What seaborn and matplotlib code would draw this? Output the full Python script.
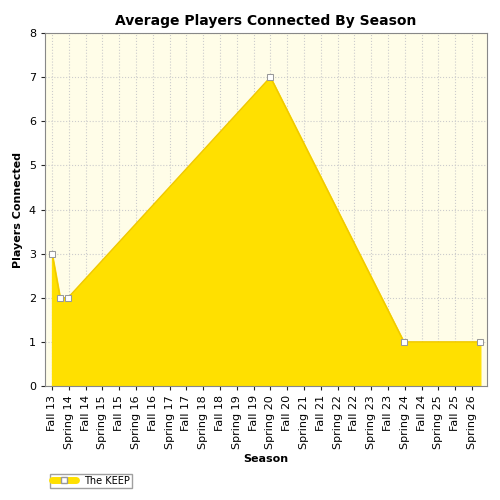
import matplotlib
matplotlib.use("Agg")
import matplotlib.pyplot as plt
import seaborn as sns
import pandas as pd
from matplotlib.lines import Line2D

seasons = []
for yr in range(13, 27):
    if yr > 13:
        seasons.append(f"Spring {yr}")
    if yr < 26:
        seasons.append(f"Fall {yr}")
pos_x = [0, 0.48, 0.95, 13.0, 20.95, 25.5]
players = [3, 2, 2, 7, 1, 1]
df = pd.DataFrame({"x": pos_x, "players": players})

sns.set_style("white")
plt.rcParams['font.family'] = ['DejaVu Sans']
plt.rcParams['text.color'] = 'black'
plt.rcParams['axes.labelcolor'] = 'black'
fig = plt.figure(figsize=(5, 5), dpi=100)
ax = fig.add_axes([0.09, 0.228, 0.884, 0.706])
ax.set_facecolor("#fffde8")

ax.fill_between(df["x"], df["players"], color="#ffe000", zorder=2)
sns.lineplot(data=df, x="x", y="players", ax=ax, color="#f0c800", lw=1,
             marker="s", markersize=5, markerfacecolor="white",
             markeredgecolor="#999999", zorder=3)

ax.set_xlim(-0.42, 25.9)
ax.set_ylim(0, 8)
ax.set_xticks(range(len(seasons)))
ax.set_xticklabels(seasons, rotation=90, fontsize=8, color="black")
ax.tick_params(axis="y", labelsize=8, labelcolor="black")
ax.tick_params(length=3, left=True, bottom=True)
ax.grid(True, ls=":", color="#cccccc", lw=0.8)
ax.set_axisbelow(True)
for s in ax.spines.values():
    s.set_color("#888888")
ax.set_title("Average Players Connected By Season", fontsize=10, fontweight="bold")
ax.set_xlabel("Season", fontsize=8, fontweight="bold")
ax.set_ylabel("Players Connected", fontsize=8, fontweight="bold")

h = Line2D([], [], color="#ffe000", lw=5, marker="s", markersize=5,
           markerfacecolor="white", markeredgecolor="#999999")
fig.legend([h], ["The KEEP"], loc="lower left", bbox_to_anchor=(0.09, 0.015),
           fontsize=7, frameon=True, fancybox=False, edgecolor="#888888",
           borderpad=0.2, handlelength=2.5)
fig.savefig("out.png", dpi=100)
